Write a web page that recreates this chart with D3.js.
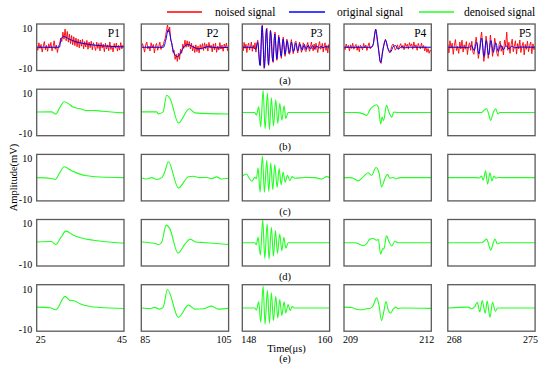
<!DOCTYPE html>
<html><head><meta charset="utf-8">
<script src="https://cdn.jsdelivr.net/npm/d3@7"></script>
<style>
body{margin:0;background:#fff}
svg{display:block}
</style>
</head><body>
<svg id="chart" width="550" height="372" font-family="'Liberation Serif','Times New Roman','DejaVu Serif',Times,serif"></svg>
<script>
// ---------------- data ----------------
const panelNames = ["P1","P2","P3","P4","P5"];
const timeRanges = [[25,45],[85,105],[148,160],[209,212],[268,275]];
const xTickLabels = [["25","45"],["85","105"],["148","160"],["209","212"],["268","275"]];
const yTickValues = [10,-10];
const rowLabels = ["(a)","(b)","(c)","(d)","(e)"];
const legendLabels = ["noised signal","original signal","denoised signal"];

// noised signals: uniformly sampled across each time window
const noisedP1 = [0.8,-1.5,2.2,-0.6,1.4,-2.4,0.5,2.8,-1.2,0.9,-2.0,1.7,-0.4,2.4,-1.8,0.2,3.2,-1.0,1.1,-2.6,0.6,
  1.5,4.5,2.8,7.5,4.0,9.0,3.2,7.8,2.5,6.5,1.8,5.8,1.2,5.2,0.8,4.6,0.2,4.0,-0.3,3.6,0.5,3.9,-0.8,2.8,0.1,3.4,-1.0,2.6,-0.2,3.0,
  -1.3,2.2,0.4,-1.6,2.5,-0.6,1.9,-1.8,2.3,-0.4,1.5,-2.2,2.0,-0.9,1.2,-1.7,2.6,-1.1,0.7,-2.3,1.8,-0.5,2.1,-1.9,0.9,-1.4,2.3,-0.8,1.0,-0.2];
const noisedP2 = [-1.2,1.8,0.3,-2.4,1.1,2.6,-0.8,0.5,-1.9,2.2,-0.3,1.4,-2.8,0.7,1.9,-1.5,0.4,2.5,-1.1,0.9,
  0.5,3.0,4.5,8.0,11.0,7.5,10.0,3.5,2.0,-2.5,-1.5,-6.0,-3.5,-7.0,-3.0,-6.0,-1.0,-3.0,1.5,-0.5,3.5,0.0,3.2,0.2,2.8,
  -0.8,2.0,-1.8,0.8,-2.6,1.2,-2.2,0.6,-2.8,1.3,-1.0,1.8,-1.6,2.2,-0.7,1.5,-1.9,2.4,-0.4,1.0,-2.3,1.7,-1.2,2.0,-2.5,
  0.6,-1.4,2.3,-0.9,1.1,-2.0,1.6,-0.3,2.1,-1.7,0.4];
const noisedP3 = [1.2,-1.8,2.4,-0.6,1.5,-2.6,0.8,2.0,-1.4,0.3,2.6,-2.0,1.0,
  -0.8,2.2,-2.4,1.8,3.5,-2.0,-8.5,-9.0,4.0,11.0,2.5,-10.5,-5.0,6.0,9.5,-2.0,-9.0,-3.0,8.5,5.0,-5.0,-7.5,3.5,7.5,0.0,
  -6.5,-3.0,6.0,2.5,-2.5,-5.5,1.5,5.0,-0.5,-4.5,-0.5,4.0,1.0,-3.0,-3.5,1.0,3.8,-0.5,-3.2,-0.5,2.5,3.0,-1.0,-2.8,
  0.8,2.6,0.0,-2.5,-0.8,2.2,1.5,-1.5,-2.2,1.0,2.4,-0.6,-2.0,0.4,2.6,-0.3,-1.8,1.6,-1.2,2.0,-0.4,-2.6,1.2,2.8,-1.0,
  -0.2,1.9,-2.4,0.6,2.2,-1.6,0.9,-2.8,1.3,-0.5];
const noisedP4 = [0.4,-1.2,1.6,-0.3,0.9,-1.8,1.2,-0.6,2.0,-1.0,0.5,1.4,-1.5,0.8,-2.2,1.0,0.2,-1.3,1.9,-0.4,1.1,-1.6,0.6,2.2,-0.8,0.3,
  0.5,2.0,6.0,9.0,5.0,1.5,-3.0,-7.0,-8.0,-3.0,0.0,2.5,4.0,2.0,-0.5,-2.0,-2.8,-1.0,0.8,1.6,0.2,-1.4,-0.6,1.2,-0.8,0.6,
  1.8,-0.5,1.0,-1.2,2.0,0.3,1.5,-0.9,2.3,0.5,1.7,-1.0,2.6,0.0,1.2,-1.5,1.9,0.4,-0.8,2.1,-0.5,0.9,-1.8,0.3,-2.5,-0.6,-3.0,-1.4,-2.2];
const noisedP5 = [1.5,-2.8,3.2,-0.5,2.0,-3.5,1.0,3.8,-1.6,0.4,-3.0,2.6,-0.9,3.5,-2.4,1.2,-1.0,2.8,-3.6,0.8,
  2.2,-1.5,3.0,-2.5,-3.5,1.5,5.0,0.5,-5.5,-2.0,4.0,7.5,1.0,-7.0,-3.5,5.5,2.0,-5.5,-2.0,6.0,1.5,-4.5,-1.0,4.5,1.0,
  -3.0,-4.5,1.5,3.0,-2.0,0.5,-3.8,3.5,0.8,7.5,-1.5,2.5,-3.0,1.2,4.0,-2.2,0.6,3.2,-3.4,1.8,-0.8,3.6,-2.6,0.5,2.4,
  -3.8,1.4,-1.0,3.0,-2.2,0.9,2.6,-3.2,1.7,-1.2,0.6];

// original signals: [time (us), amplitude (mV)]
const originalP1 = [[25,0],[30.2,0],[30.6,4.2],[31.2,5.3],[32.3,4.2],[33.8,2.8],[35.4,2.0],[37.6,1.2],[40,0.7],[45,0.2]];
const originalP2 = [[85,0],[90.1,0],[90.6,3.5],[91.2,8.8],[91.9,2.5],[92.6,-3.5],[93.3,-4.7],[94.2,-2],[95.0,0.8],[95.8,1.3],
  [97.0,0],[98.2,-0.8],[100.4,0.3],[102.4,-0.3],[105,0]];
const originalP3 = [[148,0],[149.52,0],[149.84,-1],[150.12,2.5],[150.44,-9],[150.72,10.5],[151.04,-10],[151.32,9],[151.59,-8.5],
  [151.87,8],[152.19,-7],[152.47,6.5],[152.74,-5.8],[153.02,5],[153.34,-4.5],[153.62,4],[153.89,-3.5],[154.17,3.2],[154.49,-2.8],
  [154.76,2.5],[155.04,-2.2],[155.36,2],[155.64,-1.8],[155.91,1.6],[156.24,-1.4],[156.51,1.3],[156.79,-1.1],[157.06,1],
  [157.38,-0.9],[157.66,0.8],[157.94,-0.7],[158.26,0.6],[158.53,-0.5],[158.81,0.4],[159.09,-0.3],[159.41,0.3],[160,0]];
const originalP4 = [[209,0],[209.95,0],[210.0,1.2],[210.09,8.8],[210.18,0],[210.26,-7.5],[210.35,-0.5],[210.43,3.5],[210.51,-0.5],
  [210.6,-2.3],[210.69,0.3],[210.77,0.8],[210.86,-1.0],[210.98,0.3],[211.09,-0.3],[211.26,0],[212,0]];
const originalP5 = [[268,0],[269.37,0],[269.63,-0.3],[269.9,0.8],[270.12,-1.7],[270.31,2.5],[270.49,-3.3],[270.71,4.5],[270.9,-4.5],
  [271.08,3.3],[271.27,-3.8],[271.46,3.3],[271.65,-2.5],[271.84,2.2],[272.05,-2.2],[272.24,1.2],[272.45,-1.2],[272.67,0.8],
  [272.91,-0.8],[273.13,0.5],[273.39,-0.3],[273.79,0.1],[275,0]];

// denoised signals, rows (b)-(e): [time (us), amplitude (mV)]
const denoisedB_P1 = [[25,0.2],[28.4,0.3],[29.4,-0.8],[30.3,2.5],[31.3,5.3],[32.2,4.5],[33.2,2.8],[35,1.8],[36.3,0.9],[38,1.0],[40,0.6],[45,-0.2]];
const denoisedB_P2 = [[85,0.3],[88.5,0.3],[88.9,-0.7],[90.0,0.3],[90.8,8.5],[91.6,6.8],[93.5,-5.2],[96.0,1.8],[97.3,-0.2],[105,-0.8]];
const denoisedB_P3 = [[148,0],[149.71,0],[149.94,-1.3],[150.26,2.8],[150.53,-7.2],[150.86,11],[151.13,-8],[151.45,9.5],[151.73,-8.5],
  [152.0,7.3],[152.28,-6.7],[152.60,6.2],[152.88,-5.5],[153.15,4.5],[153.43,-3.8],[153.75,3.3],[153.98,-3],[154.30,0],[160,0]];
const denoisedB_P4 = [[209,0],[209.43,0],[209.55,-0.2],[209.66,-0.7],[209.78,-1.5],[209.89,1.3],[210.0,3],[210.12,3.8],[210.18,2.7],
  [210.26,-5.7],[210.31,-2.3],[210.36,-4],[210.46,3.5],[210.55,0],[210.64,-2.3],[210.71,0.2],[210.86,0],[212,0]];
const denoisedB_P5 = [[268,0],[270.71,0],[270.9,1],[271.11,1.8],[271.33,-2],[271.43,-4],[271.65,0],[271.84,1.8],[272.02,-0.7],[272.18,0],[275,0]];

const denoisedC_P1 = [[25,0],[28.1,-0.3],[29.2,-0.9],[30.3,2.5],[31.3,5.4],[33.0,3.4],[34.9,1.75],[36.5,0.9],[39.5,0.3],[45,0]];
const denoisedC_P2 = [[85,0],[86.2,-0.7],[87.4,0],[88.5,-0.9],[89.7,0],[90.4,3],[91.2,7.9],[93.5,-5.1],[95.8,0.4],[96.9,0.7],
  [98.4,0],[100.0,0.1],[101.1,-0.4],[102.3,0.4],[103.4,-0.7],[105,-0.3]];
const denoisedC_P3 = [[148,0.7],[148.56,1.8],[149.02,-0.7],[149.34,-1.8],[149.71,0.2],[149.94,-0.5],[150.17,4.8],[150.44,-7.2],
  [150.76,10.7],[151.04,-7.2],[151.36,8.5],[151.64,-6.8],[151.91,7.3],[152.19,-6],[152.46,6.5],[152.79,-4.8],[153.06,4.5],
  [153.34,-3.5],[153.61,2.8],[153.89,-2.2],[154.21,1.2],[154.53,-1.5],[154.86,0.5],[155.22,-0.3],[156.6,0.1],[157.98,0],
  [158.9,-0.7],[159.59,0.5],[160,0]];
const denoisedC_P4 = [[209,0],[209.21,0],[209.32,-0.3],[209.49,-1.6],[209.66,0.4],[209.83,2.4],[209.95,1.2],[210.1,5],[210.21,2],
  [210.29,-4.6],[210.41,-0.3],[210.49,1.6],[210.58,-0.3],[210.69,0.1],[210.78,-0.6],[210.92,0],[212,0]];
const denoisedC_P5 = [[268,0],[270.31,0],[270.52,-0.2],[270.71,0.75],[270.84,-1.2],[271.03,3.4],[271.19,-3.2],[271.38,2.4],
  [271.54,-1.6],[271.7,0.8],[271.86,-0.3],[272.05,0.1],[272.32,0],[275,0]];

const denoisedD_P1 = [[25,0.4],[28.4,0.6],[29.4,-0.9],[30.5,2.5],[31.7,5.75],[33.4,3.75],[35.7,2.1],[38.0,1.25],[45,-0.25]];
const denoisedD_P2 = [[85,0.4],[88.2,-0.4],[89.0,-0.9],[89.7,0.4],[90.7,8.7],[91.5,7.1],[93.4,-5.1],[95.1,-0.4],[96.2,1.8],
  [97.4,0.4],[99.3,0.1],[105,-0.9]];
const denoisedD_P3 = [[148,0],[149.71,0],[149.94,-1],[150.17,2.7],[150.49,-6],[150.81,11.5],[151.09,-7.7],[151.41,9.3],[151.68,-8],
  [152.0,7.7],[152.28,-6.8],[152.56,6],[152.83,-5.2],[153.15,4.3],[153.43,-4],[153.71,2.7],[153.98,-2.7],[154.30,0],[160,0]];
const denoisedD_P4 = [[209,0],[209.38,0],[209.55,-0.9],[209.66,-1.5],[209.78,-0.4],[209.89,1.8],[210.0,2.1],[210.12,1.2],[210.18,1.7],
  [210.26,-5.6],[210.33,-2.9],[210.37,-3.2],[210.46,3.4],[210.55,0.4],[210.64,-1.6],[210.75,0.75],[210.86,0],[212,0]];
const denoisedD_P5 = [[268,0],[270.71,0],[270.9,0.75],[271.11,1.8],[271.33,-2],[271.43,-3.7],[271.65,0],[271.78,1.8],[271.97,-0.6],[272.18,0],[275,0]];

const denoisedE_P1 = [[25,0.4],[28.1,0.1],[28.7,-0.4],[29.4,-0.9],[31.5,5.75],[32.6,3.75],[33.5,3.6],[34.9,2.1],[37.2,0.75],[39.5,0.25],[45,-0.25]];
const denoisedE_P2 = [[85,0],[87.0,-0.3],[88.1,0.3],[89.1,-0.6],[90.0,0.3],[91.0,9.1],[93.5,-4.7],[95.8,1.4],[97.3,-0.6],[99.2,-0.4],
  [101.1,0.9],[102.6,-0.6],[105,-0.2]];
const denoisedE_P3 = [[148,0],[149.71,0],[149.94,-1],[150.26,3],[150.53,-7],[150.86,10.8],[151.13,-8],[151.45,8.7],[151.73,-7.5],
  [152.0,7.5],[152.28,-6.3],[152.60,5.8],[152.88,-5],[153.15,4.2],[153.43,-3.7],[153.75,3],[153.98,-2.5],[154.30,1.7],
  [154.58,-1.3],[154.86,0.7],[155.13,0],[160,0]];
const denoisedE_P4 = [[209,0.4],[209.26,0.2],[209.43,-0.6],[209.61,-0.9],[209.78,-0.4],[209.89,-0.3],[210.0,1.1],[210.12,5],[210.2,1.6],
  [210.29,-6.2],[210.37,-1.7],[210.44,3.2],[210.52,-1],[210.6,-2.6],[210.69,-0.6],[210.78,0.4],[210.86,-0.4],[210.98,0],[212,-0.2]];
const denoisedE_P5 = [[268,0],[269.64,0.4],[269.9,-0.4],[270.17,0.8],[270.36,2.8],[270.57,-1.9],[270.76,3.6],[271.0,-2.6],[271.16,3.4],
  [271.38,-4.6],[271.59,2.8],[271.81,-1.6],[272.0,0],[275,0]];

const noisedSignals = [noisedP1, noisedP2, noisedP3, noisedP4, noisedP5];
const originalSignals = [originalP1, originalP2, originalP3, originalP4, originalP5];
const denoisedRows = [
  [denoisedB_P1, denoisedB_P2, denoisedB_P3, denoisedB_P4, denoisedB_P5],
  [denoisedC_P1, denoisedC_P2, denoisedC_P3, denoisedC_P4, denoisedC_P5],
  [denoisedD_P1, denoisedD_P2, denoisedD_P3, denoisedD_P4, denoisedD_P5],
  [denoisedE_P1, denoisedE_P2, denoisedE_P3, denoisedE_P4, denoisedE_P5]
];

// ---------------- layout ----------------
const rowTops = [24, 89.2, 154.4, 219.5, 284.7];
const colLefts = [36.7, 141.3, 242.3, 344, 447.8];
const panelW = 87.3, panelH = 46.5;
const yDomain = [-11.5, 11.5];
const pLabelInset = [4, 10, 7, 5, 4];
const rowLabelY = [80, 146, 211, 276, 358];
const colors = {noised:"#ff0000", original:"#0000ff", denoised:"#22ff22", frame:"#5a5a5a"};
const serif = "'Liberation Serif','Times New Roman','DejaVu Serif',Times,serif";

const svg = d3.select("#chart");
const defs = svg.append("defs");

const y = d3.scaleLinear().domain(yDomain).range([panelH, 0]);

function label(sel) { return sel.attr("font-family", serif).attr("fill", "#000"); }

rowTops.forEach((top, r) => {
  colLefts.forEach((left, c) => {
    const x = d3.scaleLinear().domain(timeRanges[c]).range([0, panelW]);
    const id = `clip-${r}-${c}`;
    defs.append("clipPath").attr("id", id).append("rect")
      .attr("x", 0).attr("y", 0).attr("width", panelW).attr("height", panelH);
    const g = svg.append("g").attr("transform", `translate(${left},${top})`);
    const plot = g.append("g").attr("clip-path", `url(#${id})`);
    const smooth = d3.line().x(d => x(d[0])).y(d => y(d[1])).curve(d3.curveMonotoneX);
    if (r === 0) {
      const vals = noisedSignals[c];
      const n = vals.length;
      const t0 = timeRanges[c][0], t1 = timeRanges[c][1];
      const pts = vals.map((v, i) => [t0 + (t1 - t0) * i / (n - 1), v]);
      plot.append("path").attr("d", d3.line().x(d => x(d[0])).y(d => y(d[1]))(pts))
        .attr("fill", "none").attr("stroke", colors.noised).attr("stroke-width", 0.9).attr("stroke-linejoin", "round");
      plot.append("path").attr("d", smooth(originalSignals[c]))
        .attr("fill", "none").attr("stroke", colors.original).attr("stroke-width", 1.0);
      label(g.append("text")).attr("x", panelW - pLabelInset[c]).attr("y", 12.5)
        .attr("text-anchor", "end").attr("font-size", "11.5px").text(panelNames[c]);
    } else {
      plot.append("path").attr("d", smooth(denoisedRows[r - 1][c]))
        .attr("fill", "none").attr("stroke", colors.denoised).attr("stroke-width", 1.1);
    }
    g.append("rect").attr("x", 0).attr("y", 0).attr("width", panelW).attr("height", panelH)
      .attr("fill", "none").attr("stroke", colors.frame).attr("stroke-width", 1.3);
    if (c === 0) {
      yTickValues.forEach(v => {
        label(g.append("text")).attr("x", -4.5).attr("y", y(v) + 1.3)
          .attr("text-anchor", "end").attr("dominant-baseline", "central")
          .attr("font-size", "10px").text(v);
      });
    }
    if (r === rowTops.length - 1) {
      label(g.append("text")).attr("x", x(timeRanges[c][0]) - 1).attr("y", panelH + 12)
        .attr("text-anchor", "start").attr("font-size", "10px").text(xTickLabels[c][0]);
      label(g.append("text")).attr("x", x(timeRanges[c][1]) + 3).attr("y", panelH + 12)
        .attr("text-anchor", "end").attr("font-size", "10px").text(xTickLabels[c][1]);
    }
  });
});

// row labels
rowLabels.forEach((lab, r) => {
  label(svg.append("text")).attr("x", 285).attr("y", rowLabelY[r]).attr("dominant-baseline", "central")
    .attr("text-anchor", "middle").attr("font-size", "10.5px").text(lab);
});

// axis titles
label(svg.append("text")).attr("x", 286.5).attr("y", 348).attr("dominant-baseline", "central")
  .attr("text-anchor", "middle").attr("font-size", "10.5px").text("Time(μs)");
label(svg.append("text")).attr("transform", "translate(13.3,177.5) rotate(-90)")
  .attr("dominant-baseline", "central").attr("text-anchor", "middle")
  .attr("font-size", "10.5px").text("Amplitude(mV)");

// legend
const legendItems = [
  {label: legendLabels[0], color: colors.noised, x1: 167, x2: 202, tx: 215},
  {label: legendLabels[1], color: colors.original, x1: 289, x2: 325, tx: 337},
  {label: legendLabels[2], color: colors.denoised, x1: 419, x2: 454, tx: 464}
];
legendItems.forEach(it => {
  svg.append("line").attr("x1", it.x1).attr("x2", it.x2).attr("y1", 12).attr("y2", 12)
    .attr("stroke", it.color).attr("stroke-width", 1.3);
  label(svg.append("text")).attr("x", it.tx).attr("y", 12).attr("dominant-baseline", "central")
    .attr("font-size", "11.5px").text(it.label);
});
</script>
</body></html>
